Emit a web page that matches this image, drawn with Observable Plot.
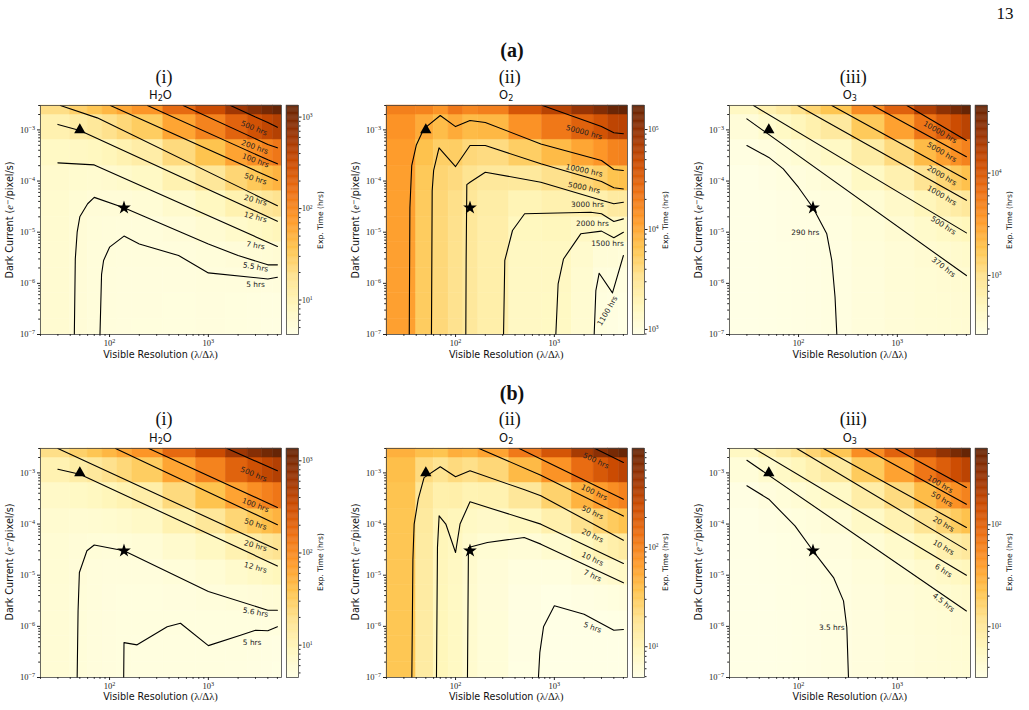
<!DOCTYPE html>
<html><head><meta charset="utf-8">
<script src="https://cdn.jsdelivr.net/npm/d3@7"></script>
<script src="https://cdn.jsdelivr.net/npm/@observablehq/plot@0.6"></script>
<style>
body{margin:0;background:#fff;}
#fig{position:relative;width:1029px;height:710px;overflow:hidden;background:#fff;}
.t{position:absolute;white-space:nowrap;line-height:1;color:#111;}
.serif{font-family:"Liberation Serif",serif;}
.sans{font-family:"DejaVu Sans",sans-serif;}
sub{font-size:70%;vertical-align:-0.25em;line-height:0;}
sup{font-size:70%;vertical-align:0.45em;line-height:0;}
</style></head><body><div id="fig"></div>
<script>
// ---------- shared grid ----------
const resolution = [30, 50, 70, 100, 140, 200, 500, 1000, 2000, 3000, 4000, 5000];
const darkCurrent = [1e-7, 3e-7, 1e-6, 3e-6, 1e-5, 3e-5, 1e-4, 3e-4, 1e-3, 3e-3];
const triangleMark = [[50, 1e-3]];
const starMark = [[140, 3e-5]];
const xMajorTicks = [100, 1000];
const yMajorTicks = [1e-7, 1e-6, 1e-5, 1e-4, 1e-3];
const ylorbr = ["#ffffe5","#fff7bc","#fee391","#fec44f","#fe9929","#ec7014","#cc4c02","#993404","#662506"];

// ---------- exposure times (hrs): one column per resolution, rows = dark current ----------
const expA_H2O = [
[6.0,6.0,6.0,6.01,6.05,6.14,6.46,7.39,10.6,19.9],
[5.4,5.4,5.41,5.42,5.47,5.62,6.13,7.59,12.7,27.3],
[5.1,5.1,5.11,5.13,5.2,5.4,6.09,8.06,15.0,34.7],
[4.95,4.95,4.96,4.99,5.09,5.36,6.31,9.0,18.5,45.6],
[4.85,4.86,4.87,4.9,5.03,5.4,6.68,10.3,23.1,59.6],
[4.8,4.81,4.83,4.88,5.05,5.55,7.31,12.3,29.9,80.1],
[4.76,4.77,4.81,4.92,5.32,6.45,10.4,21.8,61.6,175],
[4.81,4.83,4.9,5.12,5.85,7.95,15.3,36.3,110,320],
[4.72,4.76,4.89,5.28,6.65,10.5,24.2,63.1,199,588],
[4.63,4.68,4.88,5.44,7.39,13.0,32.5,88.4,284,843],
[4.54,4.61,4.86,5.58,8.11,15.3,40.6,113,365,1087],
[4.49,4.58,4.89,5.77,8.85,17.7,48.5,136,444,1324]];
const expA_O2 = [
[11100,11101,11103,11108,11125,11175,11350,11850,13600,18600],
[5430,5431,5434,5442,5470,5550,5830,6630,9430,17430],
[4200,4200,4203,4209,4230,4290,4500,5100,7200,13200],
[3400,3402,3406,3418,3460,3580,4000,5200,9400,21400],
[2800,2801,2805,2814,2846,2938,3260,4180,7400,16600],
[2261,2262,2266,2277,2315,2425,2810,3910,7760,18760],
[1521,1524,1532,1557,1643,1889,2750,5210,13820,38420],
[1512,1516,1530,1569,1705,2095,3460,7360,21010,60010],
[1227,1233,1254,1314,1524,2124,4224,10224,31224,91224],
[994,1002,1030,1110,1390,2190,4990,12990,40990,120990],
[955,967,1005,1115,1500,2600,6450,17450,55950,165950],
[906,917,958,1074,1480,2640,6700,18300,58900,174900]];
const expA_O3 = [
[260,260,260,260,261,262,267,280,325,455],
[268,268,268,268,269,271,279,302,380,604],
[274,274,274,275,276,279,290,322,435,757],
[278,278,278,279,280,285,302,349,514,986],
[281,281,281,282,284,291,315,382,619,1295],
[286,286,286,287,291,301,336,435,781,1771],
[310,310,311,314,323,350,442,706,1630,4270],
[330,331,333,338,358,413,607,1161,3100,8640],
[343,344,348,359,400,516,923,2085,6152,17770],
[347,349,355,373,436,615,1243,3037,9316,27260],
[349,352,360,385,470,714,1568,4008,12550,36950],
[352,355,366,397,505,815,1900,5000,15850,46850]];
const expB_H2O = [
[5.9,5.9,5.9,5.91,5.95,6.05,6.39,7.36,10.8,20.5],
[5.5,5.5,5.51,5.52,5.58,5.73,6.26,7.79,13.1,28.4],
[5.25,5.25,5.26,5.28,5.35,5.56,6.28,8.34,15.6,36.2],
[5.1,5.1,5.11,5.14,5.24,5.52,6.52,9.35,19.3,47.6],
[5.0,5.01,5.02,5.06,5.19,5.57,6.91,10.7,24.1,62.2],
[4.97,4.98,5.0,5.05,5.23,5.76,7.59,12.8,31.2,83.7],
[4.96,4.97,5.01,5.13,5.54,6.73,10.9,22.8,64.3,183],
[4.96,4.98,5.06,5.28,6.05,8.24,16.0,37.9,115,334],
[4.87,4.91,5.05,5.46,6.88,10.9,25.2,65.8,208,615],
[4.78,4.84,5.04,5.63,7.67,13.5,34.0,92.4,297,881],
[4.69,4.76,5.03,5.78,8.42,16.0,42.4,118,382,1136],
[4.6,4.69,5.01,5.93,9.15,18.4,50.6,143,465,1385]];
const expB_O2 = [
[34,34,34,34,34.1,34.2,34.5,35.5,39,49],
[14,14,14,14,14.1,14.2,14.8,16.4,22,38],
[9.6,9.6,9.6,9.63,9.69,9.86,10.5,12.2,18.1,35.1],
[8.3,8.3,8.31,8.34,8.44,8.72,9.7,12.5,22.3,50.3],
[7.0,7.0,7.01,7.04,7.13,7.38,8.28,10.9,19.9,45.5],
[6.0,6.01,6.02,6.05,6.18,6.53,7.77,11.3,23.7,59.1],
[5.1,5.11,5.14,5.21,5.47,6.21,8.8,16.2,42.1,116],
[4.81,4.82,4.87,5.02,5.52,6.96,12.0,26.4,76.8,221],
[4.76,4.79,4.89,5.17,6.15,8.95,18.8,46.8,145,425],
[4.75,4.79,4.93,5.34,6.75,10.8,24.9,65.3,207,611],
[4.75,4.8,4.98,5.51,7.34,12.6,30.9,83.3,267,791],
[4.75,4.82,5.04,5.68,7.92,14.3,36.7,101,325,965]];
const expB_O3 = [
[3.1,3.1,3.1,3.1,3.11,3.12,3.18,3.33,3.88,5.43],
[3.2,3.2,3.2,3.2,3.21,3.24,3.33,3.6,4.54,7.22],
[3.25,3.25,3.25,3.26,3.27,3.31,3.44,3.83,5.17,9.01],
[3.3,3.3,3.3,3.31,3.33,3.38,3.58,4.14,6.11,11.7],
[3.35,3.35,3.35,3.36,3.39,3.47,3.75,4.56,7.38,15.4],
[3.42,3.42,3.43,3.44,3.48,3.6,4.01,5.19,9.32,21.1],
[3.6,3.6,3.62,3.65,3.76,4.07,5.17,8.32,19.3,50.8],
[3.8,3.81,3.83,3.9,4.13,4.79,7.1,13.7,36.8,103],
[3.96,3.97,4.02,4.16,4.64,6.03,10.9,24.8,73.4,212],
[4.06,4.08,4.16,4.37,5.12,7.26,14.8,36.2,111,325],
[4.11,4.14,4.25,4.54,5.56,8.47,18.7,47.8,150,441],
[4.17,4.21,4.34,4.71,6.0,9.7,22.7,59.7,189,559]];

// colour-bar ranges (hrs)
const rangeA_H2O = [4.2, 1340], rangeA_O2 = [890, 174000], rangeA_O3 = [265, 45800];
const rangeB_H2O = [4.46, 1360], rangeB_O2 = [4.9, 990], rangeB_O3 = [3.18, 560];

// ---------- contour lines: [resolution, dark current] vertices ----------
const contA_H2O = [
 [[1675,3e-3],[3000,1.78e-3],[4000,1.4e-3],[5000,1.13e-3]],
 [[556,3e-3],[4000,5.2e-4],[5000,4.46e-4]],
 [[242,3e-3],[4000,2.6e-4],[5000,2.17e-4]],
 [[102,3e-3],[4000,1.24e-4],[5000,1.03e-4]],
 [[31.8,3e-3],[75,1.72e-3],[5000,3.3e-5]],
 [[30,1.28e-3],[50,9.7e-4],[5000,1.64e-5]],
 [[30,2.27e-4],[70,2.07e-4],[5000,5.25e-6]],
 [[44,1e-7],[45,3e-6],[47,1e-5],[50,2e-5],[60,3.6e-5],[70,4.8e-5],[140,3e-5],[1000,5.9e-6],[2000,3.5e-6],[4000,2.3e-6],[5000,2.3e-6]],
 [[80,1e-7],[83,1.5e-6],[87,2.8e-6],[100,5.1e-6],[140,8.4e-6],[200,5.9e-6],[500,3.5e-6],[1000,1.6e-6],[4000,1.22e-6],[5000,1.32e-6]]];
const labA_H2O = [
 {t:"500 hrs",x:2900,y:1.08e-3,r:22},{t:"200 hrs",x:2950,y:4.6e-4,r:20},{t:"100 hrs",x:3000,y:2.52e-4,r:20},
 {t:"50 hrs",x:3000,y:1.1e-4,r:17},{t:"20 hrs",x:3000,y:4.2e-5,r:15},{t:"12 hrs",x:3000,y:1.97e-5,r:15},
 {t:"7 hrs",x:3000,y:5.5e-6,r:10},{t:"5.5 hrs",x:3000,y:2.07e-6,r:10},{t:"5 hrs",x:3000,y:9.35e-7,r:0}];

const contA_O2 = [
 [[760,3e-3],[3000,1.16e-3],[4000,8.8e-4],[5000,8.4e-4]],
 [[34,1e-7],[34.5,3e-5],[36,2e-4],[40,5e-4],[46,9e-4],[52,1.2e-3],[70,1.91e-3],[100,1.16e-3],[140,1.53e-3],[200,1.4e-3],[730,5.3e-4],[3000,2.52e-4],[4000,1.68e-4],[5000,1.61e-4]],
 [[57,1e-7],[58,6.5e-5],[60,1.61e-4],[68,4.46e-4],[100,1.92e-4],[140,4.95e-4],[200,4.95e-4],[730,2.17e-4],[3000,9.8e-5],[4000,7.4e-5],[5000,7.0e-5]],
 [[127,1e-7],[128,3e-6],[130,8.5e-5],[140,9.5e-5],[200,1.49e-4],[730,9.5e-5],[3000,4.2e-5],[4000,3.59e-5],[5000,3.86e-5]],
 [[306,1e-7],[315,2.8e-6],[377,1.08e-5],[500,2.29e-5],[2340,2.46e-5],[3000,2.29e-5],[4000,1.62e-5],[5000,1.82e-5]],
 [[1035,1e-7],[1092,9.8e-7],[1238,3.0e-6],[1850,9.3e-6],[3000,1.05e-5],[4000,7.8e-6],[5000,1.0e-5]],
 [[2530,1e-7],[2630,7.2e-7],[2842,1.58e-6],[3875,6.5e-7],[5000,3.5e-6]]];
const labA_O2 = [
 {t:"50000 hrs",x:2000,y:9.0e-4,r:15},{t:"10000 hrs",x:2000,y:1.61e-4,r:12},{t:"5000 hrs",x:2000,y:7.4e-5,r:12},
 {t:"3000 hrs",x:2160,y:3.5e-5,r:0},{t:"2000 hrs",x:2430,y:1.5e-5,r:0},{t:"1500 hrs",x:3450,y:5.9e-6,r:0},
 {t:"1100 hrs",x:3450,y:2.9e-7,r:-60}];

const contA_O3 = [
 [[1250,3e-3],[5000,6.2e-4]],
 [[565,3e-3],[5000,3.0e-4]],
 [[217,3e-3],[5000,1.07e-4]],
 [[98,3e-3],[5000,4.2e-5]],
 [[35,3e-3],[5000,9.7e-6]],
 [[30,1.64e-3],[5000,1.42e-6]],
 [[30,4.95e-4],[50,2.9e-4],[70,1.73e-4],[100,7.5e-5],[140,3e-5],[193,9.3e-6],[217,2.8e-6],[234,5.4e-7],[244,1e-7]]];
const labA_O3 = [
 {t:"10000 hrs",x:2710,y:9.0e-4,r:30},{t:"5000 hrs",x:2820,y:3.67e-4,r:30},{t:"2000 hrs",x:2820,y:1.28e-4,r:30},
 {t:"1000 hrs",x:2820,y:5.2e-5,r:30},{t:"500 hrs",x:2930,y:1.35e-5,r:32},{t:"370 hrs",x:2930,y:2.07e-6,r:38},
 {t:"290 hrs",x:117,y:9.7e-6,r:0}];

const contB_H2O = [
 [[1550,3e-3],[5000,1.1e-3]],
 [[250,3e-3],[5000,2.11e-4]],
 [[115,3e-3],[5000,9.7e-5]],
 [[30,3e-3],[5000,3.13e-5]],
 [[30,1.18e-3],[50,9.4e-4],[5000,1.52e-5]],
 [[47,1e-7],[48,2e-6],[49.5,1.13e-5],[59,3e-5],[70,3.9e-5],[140,3e-5],[1000,4.8e-6],[4000,2.07e-6],[5000,2.07e-6]],
 [[139,1e-7],[140,4.8e-7],[190,4.35e-7],[383,9.8e-7],[522,1.15e-6],[1000,4.2e-7],[2115,6.7e-7],[3000,8.4e-7],[4000,8.2e-7],[5000,9.8e-7]]];
const labB_H2O = [
 {t:"500 hrs",x:2880,y:9.4e-4,r:22},{t:"100 hrs",x:3000,y:2.34e-4,r:20},{t:"50 hrs",x:3000,y:9.95e-5,r:17},
 {t:"20 hrs",x:3000,y:3.75e-5,r:15},{t:"12 hrs",x:3000,y:1.41e-5,r:15},{t:"5.6 hrs",x:3000,y:1.87e-6,r:10},
 {t:"5 hrs",x:2775,y:4.8e-7,r:0}];

const contB_O2 = [
 [[2580,3e-3],[5000,1.6e-3]],
 [[441,3e-3],[5000,3.06e-4]],
 [[173,3e-3],[730,9.0e-4],[5000,1.43e-4]],
 [[36.1,1e-7],[37,2e-5],[38.1,1e-4],[41.9,3.06e-4],[48,8.1e-4],[70,1.32e-3],[100,8.4e-4],[140,1.1e-3],[500,4.67e-4],[730,3.56e-4],[5000,4.84e-5]],
 [[64.1,1e-7],[65.6,3.5e-5],[68.2,1.45e-4],[79.7,1e-4],[100,2.78e-5],[111,1e-4],[140,2.72e-4],[730,9.96e-5],[5000,1.69e-5]],
 [[132,1e-7],[135,3.48e-5],[210,4.36e-5],[495,5.46e-5],[730,4.05e-5],[5000,7.1e-6]],
 [[690,1e-7],[713,3.1e-7],[777,9.8e-7],[1000,2.52e-6],[2000,1.73e-6],[4000,8.4e-7],[5000,8.7e-7]]];
const labB_O2 = [
 {t:"500 hrs",x:2630,y:1.72e-3,r:25},{t:"100 hrs",x:2530,y:4.14e-4,r:25},{t:"50 hrs",x:2430,y:1.68e-4,r:25},
 {t:"20 hrs",x:2430,y:5.9e-5,r:25},{t:"10 hrs",x:2430,y:2.06e-5,r:25},{t:"7 hrs",x:2430,y:9.7e-6,r:25},
 {t:"5 hrs",x:2430,y:9.5e-7,r:20}];

const contB_O3 = [
 [[951,3e-3],[5000,5.19e-4]],
 [[472,3e-3],[5000,2.45e-4]],
 [[179,3e-3],[5000,8.6e-5]],
 [[96,3e-3],[5000,3.13e-5]],
 [[35.6,3e-3],[5000,1.0e-5]],
 [[30,1.77e-3],[5000,2.0e-6]],
 [[30,5.6e-4],[50,3.06e-4],[92,9.2e-5],[140,3e-5],[226,9e-6],[285,3.15e-6],[308,9.5e-7],[320,1e-7]]];
const labB_O3 = [
 {t:"100 hrs",x:2710,y:6.0e-4,r:30},{t:"50 hrs",x:2820,y:3.06e-4,r:30},{t:"20 hrs",x:2930,y:9.95e-5,r:30},
 {t:"10 hrs",x:2930,y:3.48e-5,r:30},{t:"6 hrs",x:2930,y:1.22e-5,r:32},{t:"4.5 hrs",x:2930,y:2.92e-6,r:38},
 {t:"3.5 hrs",x:217,y:9.5e-7,r:0}];

// ---------- helpers ----------
const fig = document.getElementById("fig");
const XDOM = [20, 5500], YDOM = [1e-7, 3e-3];
const interp = d3.piecewise(d3.interpolateRgb, ylorbr);
const fmtPow = d => "10^" + Math.round(Math.log10(d));
const xMinor = [], yMinor = [];
for (let e = 1; e <= 3; e++) for (let m = 2; m <= 9; m++) { const v = m * Math.pow(10, e); if (v >= XDOM[0] && v <= XDOM[1]) xMinor.push(v); }
for (let e = -7; e <= -3; e++) for (let m = 2; m <= 9; m++) { const v = m * Math.pow(10, e); if (v <= YDOM[1]) yMinor.push(v); }

function edges(c, lo, hi) {
  const n = c.length, e = [Math.max(lo, c[0] - (c[1] - c[0]) / 2)];
  for (let i = 1; i < n; i++) e.push((c[i - 1] + c[i]) / 2);
  e.push(Math.min(hi, c[n - 1] + (c[n - 1] - c[n - 2]) / 2));
  return e;
}
const xe = edges(resolution, XDOM[0], XDOM[1]);
const ye = edges(darkCurrent, YDOM[0], YDOM[1]);

function supify(svg) {
  svg.querySelectorAll("text").forEach(t => {
    const m = /^10\^(-?\d+)$/.exec(t.textContent.trim());
    if (!m) return;
    t.textContent = "10";
    const ts = document.createElementNS("http://www.w3.org/2000/svg", "tspan");
    ts.setAttribute("dy", "-0.45em");
    ts.setAttribute("font-size", "0.72em");
    ts.textContent = m[1].replace("-", "\u2212");
    t.appendChild(ts);
  });
}
function place(el, left, top) {
  el.style.position = "absolute"; el.style.left = left + "px"; el.style.top = top + "px";
  fig.appendChild(el);
}
function addText(html, x, y, cls, size, rot = 0, weight = "normal") {
  const d = document.createElement("div");
  d.className = "t " + cls;
  d.style.left = x + "px"; d.style.top = y + "px";
  d.style.fontSize = size + "px"; d.style.fontWeight = weight;
  d.style.transform = `translate(-50%,-50%) rotate(${rot}deg)`;
  d.innerHTML = html;
  fig.appendChild(d);
}

const mL = 45, mT = 6, mR = 6, mB = 20, PW = 241, PH = 229;

function drawPanel(grid, conts, labs, range, L, T, roman, species) {
  const cells = [];
  resolution.forEach((x, i) => darkCurrent.forEach((y, j) => {
    cells.push({x1: xe[i], x2: xe[i + 1], y1: ye[j], y2: ye[j + 1], v: grid[i][j]});
  }));
  const colorOpts = {type: "log", domain: range, interpolate: interp, clamp: true};
  const svg = Plot.plot({
    width: mL + PW + mR, height: mT + PH + mB,
    marginLeft: mL, marginTop: mT, marginRight: mR, marginBottom: mB,
    style: {background: "transparent", overflow: "visible", color: "#222"},
    x: {type: "log", domain: XDOM},
    y: {type: "log", domain: YDOM},
    color: colorOpts,
    marks: [
      Plot.rect(cells, {x1: "x1", x2: "x2", y1: "y1", y2: "y2", fill: "v", stroke: "v", strokeWidth: 0.5}),
      ...conts.map(c => Plot.line(c, {x: d => d[0], y: d => d[1], stroke: "black", strokeWidth: 1.1})),
      Plot.text(labs, {x: "x", y: "y", text: "t", rotate: "r", fontSize: 7.4, fontFamily: "DejaVu Sans", fill: "#222"}),
      Plot.dot(triangleMark, {x: d => d[0], y: d => d[1], symbol: "triangle", r: 4.2, fill: "black", stroke: "none"}),
      Plot.dot(starMark, {x: d => d[0], y: d => d[1], symbol: "star", r: 4.3, fill: "black", stroke: "none"}),
      Plot.frame({stroke: "#444", strokeWidth: 0.8}),
      Plot.axisX({ticks: xMajorTicks, tickFormat: fmtPow, tickSize: 3, tickPadding: 2.5, fontSize: 8.5, fontFamily: "Liberation Serif", label: null}),
      Plot.axisX({ticks: xMinor, tickFormat: () => "", tickSize: 1.8, label: null}),
      Plot.axisY({ticks: yMajorTicks, tickFormat: fmtPow, tickSize: 3, tickPadding: 2.5, fontSize: 8.5, fontFamily: "Liberation Serif", label: null}),
      Plot.axisY({ticks: yMinor, tickFormat: () => "", tickSize: 1.8, label: null})
    ]
  });
  supify(svg);
  place(svg, L - mL, T - mT);

  // colour bar
  const N = 200, ramp = [];
  for (let i = 0; i <= N; i++) ramp.push(range[0] * Math.pow(range[1] / range[0], i / N));
  const segs = d3.range(N).map(i => ({y1: ramp[i], y2: ramp[i + 1], v: Math.sqrt(ramp[i] * ramp[i + 1])}));
  const lo = Math.floor(Math.log10(range[0])), hi = Math.floor(Math.log10(range[1]));
  const cbMajor = [], cbMinor = [];
  for (let e = lo; e <= hi; e++) {
    const p = Math.pow(10, e);
    if (p >= range[0] && p <= range[1]) cbMajor.push(p);
    for (let m = 2; m <= 9; m++) { const v = m * p; if (v >= range[0] && v <= range[1]) cbMinor.push(v); }
  }
  const cb = Plot.plot({
    width: 2 + 12 + 34, height: mT + PH + mB,
    marginLeft: 2, marginRight: 34, marginTop: mT, marginBottom: mB,
    style: {background: "transparent", overflow: "visible", color: "#222"},
    x: {domain: [0, 1], axis: null},
    y: {type: "log", domain: range},
    color: colorOpts,
    marks: [
      Plot.rect(segs, {x1: 0, x2: 1, y1: "y1", y2: "y2", fill: "v", stroke: "v", strokeWidth: 0.4}),
      Plot.frame({stroke: "#444", strokeWidth: 0.8}),
      Plot.axisY({anchor: "right", ticks: cbMajor, tickFormat: fmtPow, tickSize: 2.5, tickPadding: 1, fontSize: 7.8, fontFamily: "Liberation Serif", label: null}),
      Plot.axisY({anchor: "right", ticks: cbMinor, tickFormat: () => "", tickSize: 1.5, label: null})
    ]
  });
  supify(cb);
  place(cb, L + 246 - 2, T - mT);

  // texts
  addText("Exp. Time (hrs)", L + 280.5, T + PH / 2, "sans", 7.6, -90);
  addText("Dark Current (<span class='serif' style='font-style:italic;font-size:110%'>e</span><sup>\u2212</sup>/pixel/s)", L - 30, T + PH / 2, "sans", 9.6, -90);
  addText("Visible Resolution <span class='serif' style='font-size:110%'>(\u03bb/\u0394\u03bb)</span>", L + PW / 2, T + 249.5, "sans", 9.6);
  addText(roman, L + 124, T - 28.5, "serif", 18);
  addText(species, L + PW / 2, T - 9, "sans", 11.5);
}

const panelLeft = [40, 385.7, 729.3];
const rowTop = [105, 447.7];

drawPanel(expA_H2O, contA_H2O, labA_H2O, rangeA_H2O, panelLeft[0], rowTop[0], "(i)", "H<sub>2</sub>O");
drawPanel(expA_O2, contA_O2, labA_O2, rangeA_O2, panelLeft[1], rowTop[0], "(ii)", "O<sub>2</sub>");
drawPanel(expA_O3, contA_O3, labA_O3, rangeA_O3, panelLeft[2], rowTop[0], "(iii)", "O<sub>3</sub>");
drawPanel(expB_H2O, contB_H2O, labB_H2O, rangeB_H2O, panelLeft[0], rowTop[1], "(i)", "H<sub>2</sub>O");
drawPanel(expB_O2, contB_O2, labB_O2, rangeB_O2, panelLeft[1], rowTop[1], "(ii)", "O<sub>2</sub>");
drawPanel(expB_O3, contB_O3, labB_O3, rangeB_O3, panelLeft[2], rowTop[1], "(iii)", "O<sub>3</sub>");

addText("(a)", 512, 50, "serif", 20, 0, "bold");
addText("(b)", 512, 392.5, "serif", 20, 0, "bold");
addText("13", 1005, 13, "serif", 17);
</script></body></html>
